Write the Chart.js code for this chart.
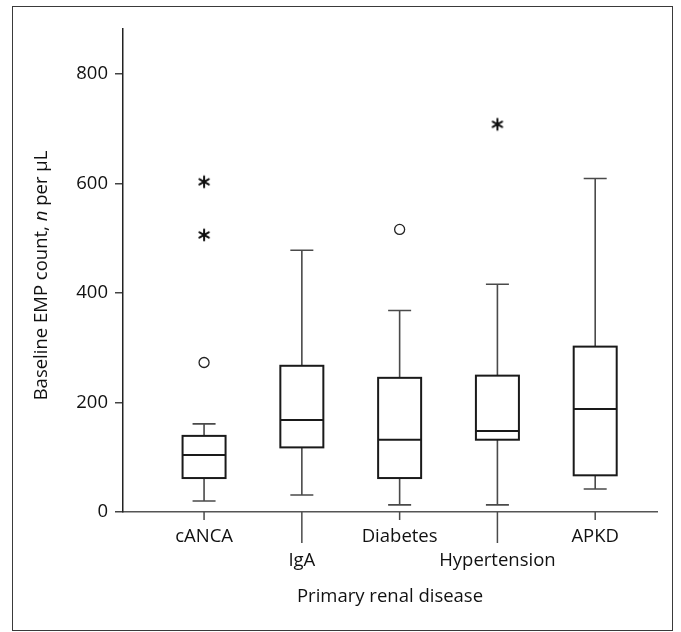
<!DOCTYPE html>
<html>
<head>
<meta charset="utf-8">
<script src="https://cdn.jsdelivr.net/npm/chart.js@4"></script>
<style>
  html, body { margin: 0; padding: 0; background: #fff; }
  #wrap { width: 681px; height: 632px; position: relative; }
</style>
</head>
<body>
<div id="wrap"><canvas id="c" width="681" height="632"></canvas></div>
<script>
// ---- data ----
const categories   = ['cANCA', 'IgA', 'Diabetes', 'Hypertension', 'APKD'];
const whiskerLow   = [20, 31, 13, 13, 42];
const q1           = [62, 118, 62, 132, 67];
const median       = [104, 168, 132, 148, 188];
const q3           = [139, 267, 245, 249, 302];
const whiskerHigh  = [161, 478, 368, 416, 609];
const outlierCat   = [0, 2];          // circles (outliers)
const outlierVal   = [273, 516];
const extremeCat   = [0, 0, 3];       // asterisks (extreme values)
const extremeVal   = [603, 506, 708];
const yTicks       = [0, 200, 400, 600, 800];

const FONT = '"Open Sans", "DejaVu Sans", sans-serif';
const FS = 18.5;

// asterisk point style
function makeAsterisk() {
  const s = 16, c = document.createElement('canvas');
  c.width = s; c.height = s;
  const g = c.getContext('2d');
  g.strokeStyle = '#111'; g.lineWidth = 2; g.lineCap = 'round';
  const r = 5.4, m = s / 2;
  for (let k = 0; k < 3; k++) {
    const a = Math.PI / 2 + k * Math.PI / 3;
    g.beginPath();
    g.moveTo(m + r * Math.cos(a), m + r * Math.sin(a));
    g.lineTo(m - r * Math.cos(a), m - r * Math.sin(a));
    g.stroke();
  }
  return c;
}

const framePlugin = {
  id: 'frame',
  beforeDraw(chart) {
    const ctx = chart.ctx;
    ctx.save();
    ctx.fillStyle = '#fff';
    ctx.fillRect(0, 0, chart.width, chart.height);
    ctx.strokeStyle = '#3a3a3a';
    ctx.lineWidth = 1;
    ctx.strokeRect(12.5, 6.5, 660, 624);
    ctx.restore();
  }
};

const boxPlugin = {
  id: 'boxes',
  beforeDatasetsDraw(chart) {
    const ctx = chart.ctx;
    const xs = chart.scales.x, ys = chart.scales.y;
    const boxHalf = 21.5, capHalf = 11.5;
    ctx.save();
    categories.forEach((cat, i) => {
      const px = xs.getPixelForValue(i);
      const yLo = ys.getPixelForValue(whiskerLow[i]);
      const yQ1 = ys.getPixelForValue(q1[i]);
      const yMed = ys.getPixelForValue(median[i]);
      const yQ3 = ys.getPixelForValue(q3[i]);
      const yHi = ys.getPixelForValue(whiskerHigh[i]);
      // whiskers
      ctx.strokeStyle = '#4a4a4a';
      ctx.lineWidth = 1.6;
      ctx.beginPath();
      ctx.moveTo(px, yQ3); ctx.lineTo(px, yHi);
      ctx.moveTo(px - capHalf, yHi); ctx.lineTo(px + capHalf, yHi);
      ctx.moveTo(px, yQ1); ctx.lineTo(px, yLo);
      ctx.moveTo(px - capHalf, yLo); ctx.lineTo(px + capHalf, yLo);
      ctx.stroke();
      // box
      ctx.fillStyle = '#fff';
      ctx.fillRect(px - boxHalf, yQ3, boxHalf * 2, yQ1 - yQ3);
      ctx.strokeStyle = '#1a1a1a';
      ctx.lineWidth = 2;
      ctx.strokeRect(px - boxHalf, yQ3, boxHalf * 2, yQ1 - yQ3);
      // median
      ctx.beginPath();
      ctx.moveTo(px - boxHalf, yMed); ctx.lineTo(px + boxHalf, yMed);
      ctx.stroke();
    });
    ctx.restore();
  },
  afterDraw(chart) {
    const ctx = chart.ctx;
    const xs = chart.scales.x;
    const base = chart.chartArea.bottom;
    ctx.save();
    // x tick marks (alternating lengths for staggered labels)
    ctx.strokeStyle = '#4a4a4a';
    ctx.lineWidth = 1.5;
    categories.forEach((cat, i) => {
      const px = xs.getPixelForValue(i);
      ctx.beginPath();
      ctx.moveTo(px, base);
      ctx.lineTo(px, base + (i % 2 ? 31 : 8));
      ctx.stroke();
    });
    // y axis title with italic n
    const parts = [
      { t: 'Baseline EMP count, ', f: FS + 'px ' + FONT },
      { t: 'n', f: 'italic ' + FS + 'px ' + FONT },
      { t: ' per \u00B5L', f: FS + 'px ' + FONT }
    ];
    let total = 0;
    parts.forEach(p => { ctx.font = p.f; p.w = ctx.measureText(p.t).width; total += p.w; });
    const cy = (chart.chartArea.top + chart.chartArea.bottom) / 2 + 5;
    ctx.translate(46.5, cy);
    ctx.rotate(-Math.PI / 2);
    ctx.fillStyle = '#111';
    ctx.textBaseline = 'alphabetic';
    ctx.textAlign = 'left';
    let x0 = -total / 2;
    parts.forEach(p => { ctx.font = p.f; ctx.fillText(p.t, x0, 0); x0 += p.w; });
    ctx.restore();
  }
};

new Chart(document.getElementById('c'), {
  type: 'scatter',
  data: {
    datasets: [
      {
        label: 'Outliers',
        data: outlierCat.map((c, i) => ({ x: c, y: outlierVal[i] })),
        pointStyle: 'circle',
        radius: 5,
        borderColor: '#222',
        borderWidth: 1.3,
        backgroundColor: '#fff'
      },
      {
        label: 'Extremes',
        data: extremeCat.map((c, i) => ({ x: c, y: extremeVal[i] })),
        pointStyle: makeAsterisk(),
        radius: 8
      }
    ]
  },
  options: {
    responsive: false,
    animation: false,
    events: [],
    layout: { padding: { top: 29, right: 24, bottom: 0, left: 0 } },
    plugins: { legend: { display: false }, tooltip: { enabled: false } },
    scales: {
      x: {
        type: 'linear',
        min: -0.829,
        max: 4.632,
        afterBuildTicks(scale) {
          scale.ticks = categories.map((c, i) => ({ value: i }));
        },
        afterFit(scale) { scale.height = 120; },
        grid: { display: false, drawTicks: false },
        border: { display: true, color: '#555', width: 1.5 },
        ticks: {
          autoSkip: false,
          maxRotation: 0,
          padding: 13,
          color: '#111',
          font: { family: FONT, size: FS, lineHeight: 24 / FS },
          callback: (v) => (v % 2 ? ['', categories[v]] : categories[v])
        },
        title: {
          display: true,
          text: 'Primary renal disease',
          color: '#111',
          font: { family: FONT, size: FS },
          padding: { top: 0, bottom: 24 }
        }
      },
      y: {
        min: 0,
        max: 882,
        afterBuildTicks(scale) {
          scale.ticks = yTicks.map(v => ({ value: v }));
        },
        afterFit(scale) { scale.width = 123; },
        grid: { drawOnChartArea: false, drawTicks: true, tickLength: 8, color: '#444', lineWidth: 1.5 },
        border: { display: true, color: '#222', width: 1.5 },
        ticks: {
          padding: 7,
          color: '#111',
          font: { family: FONT, size: FS }
        },
        title: { display: false }
      }
    }
  },
  plugins: [framePlugin, boxPlugin]
});
</script>
</body>
</html>
